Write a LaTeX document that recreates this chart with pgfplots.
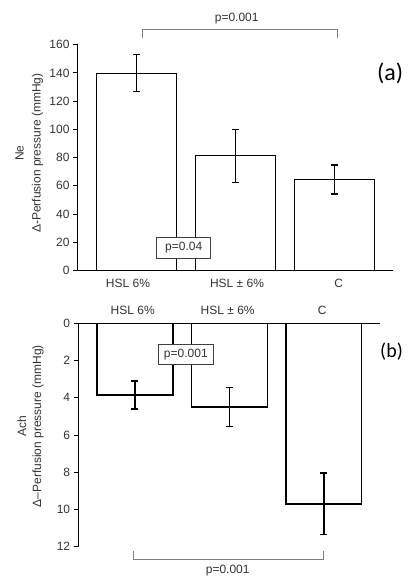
\documentclass[border=0pt]{standalone}
\usepackage{pgfplots}
\pgfplotsset{compat=1.18}
\usepackage{fontspec}
\setmainfont{Liberation Sans}
\newfontfamily\calib{Carlito}
\definecolor{txt}{gray}{0.2}
\definecolor{brk}{gray}{0.5}
\begin{document}
\begin{tikzpicture}
\useasboundingbox (0pt,0pt) rectangle (407pt,-578pt);
% ---------------- panel (a)
\begin{axis}[
  at={(235.5pt,-157.6pt)}, anchor=center,
  scale only axis, width=315pt, height=225.8pt,
  xmin=-0.593, xmax=2.589, ymin=0, ymax=160,
  axis lines=left, axis line style={-, line width=1pt},
  ytick={0,20,...,160},
  xtick={-0.088,1.013,2.04},
  xticklabels={HSL 6\%, HSL ± 6\%, C},
  xtick style={draw=none},
  ytick style={line width=1pt, black},
  tick align=outside, major tick length=5pt,
  tick label style={font=\fontsize{12}{14}\selectfont, text=txt},
  /pgf/number format/assume math mode=true,
  ylabel={Ne\\Δ-Perfusion pressure (mmHg)},
  ylabel style={font=\fontsize{12}{17}\selectfont, text=txt, align=center,
    at={(axis description cs:-0.1544,0.52)}, anchor=center},
  ybar, clip=false,
]
\addplot[fill=white, draw=black, line width=0.9pt, bar width=0.808,
  error bars/.cd, y dir=both, y explicit,
  error bar style={line width=1.4pt, black},
  error mark options={rotate=90, mark size=3.4pt, line width=1.4pt, black}]
  coordinates {(0,139.8) +- (0,13.1) (1,81.2) +- (0,18.7) (2,64.5) +- (0,10.2)};
\draw[brk, line width=0.9pt] (axis cs:0.06,164.8) -- (axis cs:0.06,171) -- (axis cs:2.03,171) -- (axis cs:2.03,164.8);
\node[text=txt, font=\fontsize{12}{14}\selectfont] at (axis cs:1.01,178.2) {p=0.001};
\node[draw=black!75, fill=white, line width=0.7pt, minimum width=54pt, minimum height=21pt, inner sep=0pt, text=txt, font=\fontsize{12}{14}\selectfont] at (axis cs:0.475,16) {p=0.04};
\node[anchor=west, font=\calib\fontsize{24}{26}\selectfont, inner sep=0pt] at (axis cs:2.427,140) {(a)};
\end{axis}
% ---------------- panel (b)
\begin{axis}[
  at={(229.35pt,-435pt)}, anchor=center,
  scale only axis, width=301.3pt, height=223.4pt,
  xmin=-0.594, xmax=2.595, ymin=0, ymax=12, y dir=reverse,
  axis y line=left, axis x line=top, axis line style={-, line width=1.2pt},
  ytick={0,2,...,12},
  xtick={-0.022,0.983,1.984},
  xticklabels={HSL 6\%, HSL ± 6\%, C},
  xtick style={draw=none},
  ytick style={line width=1pt, black},
  tick align=outside, major tick length=5pt,
  tick label style={font=\fontsize{12}{14}\selectfont, text=txt},
  /pgf/number format/assume math mode=true,
  ylabel={Ach\\Δ–Perfusion pressure (mmHg)},
  ylabel style={font=\fontsize{12}{15}\selectfont, text=txt, align=center,
    at={(axis description cs:-0.16,0.54)}, anchor=center},
  ybar, clip=false,
]
\addplot[fill=white, draw=black, line width=1.4pt, bar width=0.804,
  error bars/.cd, y dir=both, y explicit,
  error bar style={line width=1.5pt, black},
  error mark options={rotate=90, mark size=3.5pt, line width=1.5pt, black}]
  coordinates {(0,3.85) +- (0,0.75) (1,4.5) +- (0,1.05) (2,9.7) +- (0,1.65)};
\draw[brk, line width=0.9pt] (axis cs:-0.016,12.22) -- (axis cs:-0.016,12.69) -- (axis cs:1.995,12.69) -- (axis cs:1.995,12.22);
\node[text=txt, font=\fontsize{12}{14}\selectfont] at (axis cs:0.983,13.26) {p=0.001};
\node[draw=black!75, fill=white, line width=0.7pt, minimum width=55pt, minimum height=20pt, inner sep=0pt, text=txt, font=\fontsize{12}{14}\selectfont] at (axis cs:0.54,1.66) {p=0.001};
\node[anchor=west, font=\calib\fontsize{20}{22}\selectfont, inner sep=0pt] at (axis cs:2.595,1.54) {(b)};
\end{axis}
\end{tikzpicture}
\end{document}
